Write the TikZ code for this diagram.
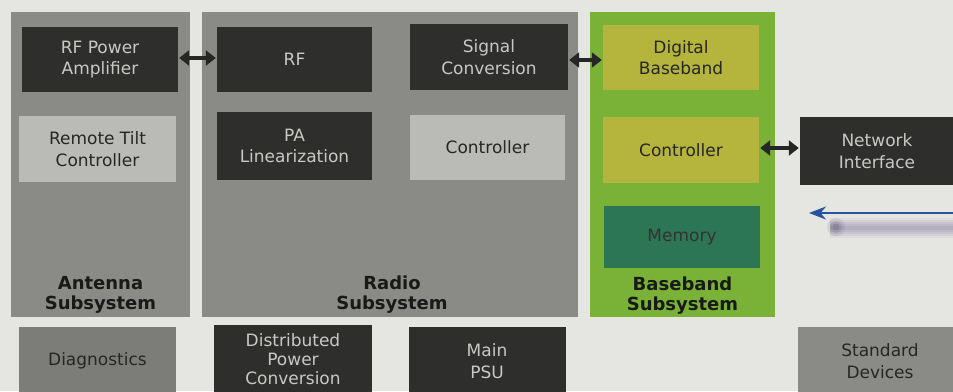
\documentclass[tikz,border=0pt]{standalone}
\usepackage{fontspec}
\setmainfont{DejaVu Sans}
\usetikzlibrary{arrows.meta, positioning}
\definecolor{PageGrey}{RGB}{229,229,226}
\definecolor{PanelGrey}{RGB}{138,138,135}
\definecolor{DarkBox}{RGB}{46,46,44}
\definecolor{LightBox}{RGB}{186,186,183}
\definecolor{LightText}{RGB}{200,200,197}
\definecolor{BaseGreen}{RGB}{121,178,54}
\definecolor{OliveBox}{RGB}{181,180,60}
\definecolor{MemTeal}{RGB}{45,118,84}
\definecolor{ArrowBlue}{RGB}{38,84,160}
\definecolor{ShadowMauve}{RGB}{128,118,158}

\tikzset{
  blk/.style={minimum width=156pt, minimum height=66pt, inner sep=0pt, align=center,
    font=\fontsize{17}{21.5}\selectfont},
  darkblk/.style={blk, fill=DarkBox, text=LightText},
  lightblk/.style={blk, fill=LightBox, text=black!85},
  oliveblk/.style={blk, fill=OliveBox, text=black!85},
  panel/.style={inner sep=0pt},
  paneltitle/.style={align=center, inner sep=0pt, text=black!90,
    font=\fontsize{18}{19.5}\selectfont\bfseries},
  dblarrow/.style={{Triangle[width=15pt,length=10pt]}-{Triangle[width=15pt,length=10pt]},
    line width=3.6pt, black!85, shorten <=1pt, shorten >=1pt}
}

\begin{document}
\begin{tikzpicture}[x=1pt, y=-1pt]
\useasboundingbox (0,0) rectangle (953,391);
\clip (0,0) rectangle (953,391);
\fill[PageGrey] (0,0) rectangle (953,391);

% subsystem panels
\node[panel, fill=PanelGrey, minimum width=179pt, minimum height=305pt] (ant) at (100.5,164.5) {};
\node[panel, fill=PanelGrey, minimum width=376pt, minimum height=305pt] (radio) at (390,164.5) {};
\node[panel, fill=BaseGreen, minimum width=185pt, minimum height=305pt] (bb) at (682.5,164.5) {};
\node[paneltitle, above=4pt of ant.south] (anttitle) {Antenna\\Subsystem};
\node[paneltitle, above=4pt of radio.south, xshift=2pt] (radiotitle) {Radio\\Subsystem};
\node[paneltitle, above=3pt of bb.south] (bbtitle) {Baseband\\Subsystem};

% antenna blocks
\node[darkblk, minimum height=65pt] (rfpa) at (100,59.5) {RF Power\\Amplifier};
\node[lightblk, minimum width=157pt] (tilt) at (97.5,149) {Remote Tilt\\Controller};

% radio blocks
\node[darkblk, minimum width=155pt, minimum height=65pt] (rf) at (294.5,59.5) {RF};
\node[darkblk, minimum width=155pt, minimum height=68pt] (palin) at (294.5,146) {PA\\Linearization};
\node[darkblk, minimum width=158pt] (sigconv) at (489,57) {Signal\\Conversion};
\node[lightblk, minimum width=155pt, minimum height=65pt] (radioctl) at (487.5,147) {Controller};

% baseband blocks
\node[oliveblk, minimum height=65pt] (digbb) at (681,57.5) {Digital\\Baseband};
\node[oliveblk] (bbctl) at (681,150) {Controller};
\node[blk, fill=MemTeal, text=black!80, minimum height=62pt] (mem) at (682,237) {Memory};

% outside the subsystems
\node[darkblk, minimum width=154pt, minimum height=68pt] (netif) at (877,151) {Network\\Interface};
\node[blk, fill=PanelGrey!90!black, text=black!85, minimum width=157pt, minimum height=68pt] (diag) at (97.5,361) {Diagnostics};
\node[darkblk, minimum width=158pt, minimum height=68pt, font=\fontsize{17}{19}\selectfont] (dpc) at (293,359) {Distributed\\Power\\Conversion};
\node[darkblk, minimum width=157pt, minimum height=68pt] (psu) at (487,361) {Main\\PSU};
\node[blk, fill=PanelGrey, text=black!85, minimum width=164pt, minimum height=68pt] (stddev) at (880,361) {Standard\\Devices};

% links
\draw[dblarrow] (rfpa.east |- 0,58) -- (rf.west |- 0,58);
\draw[dblarrow] (sigconv.east |- 0,60) -- (digbb.west |- 0,60);
\draw[dblarrow] (bbctl.east |- 0,148) -- (netif.west |- 0,148);

% incoming feed with its soft shadow
\coordinate (feedin) at (953,213);
\coordinate (feedtip) at (809,213);
\foreach \w/\o in {20/0.08, 16/0.1, 12/0.12, 8/0.14, 4/0.14}
  \draw[ShadowMauve, line width=\w pt, opacity=\o] (830,228) -- (960,228);
\foreach \r/\o in {9/0.12, 6/0.18, 3.5/0.25}
  \fill[ShadowMauve!70!black, opacity=\o] (836,227) circle (\r pt);
\draw[ArrowBlue, line width=2.2pt, -{Stealth[length=17pt,width=13pt]}] (feedin) -- (feedtip);
\end{tikzpicture}
\end{document}
